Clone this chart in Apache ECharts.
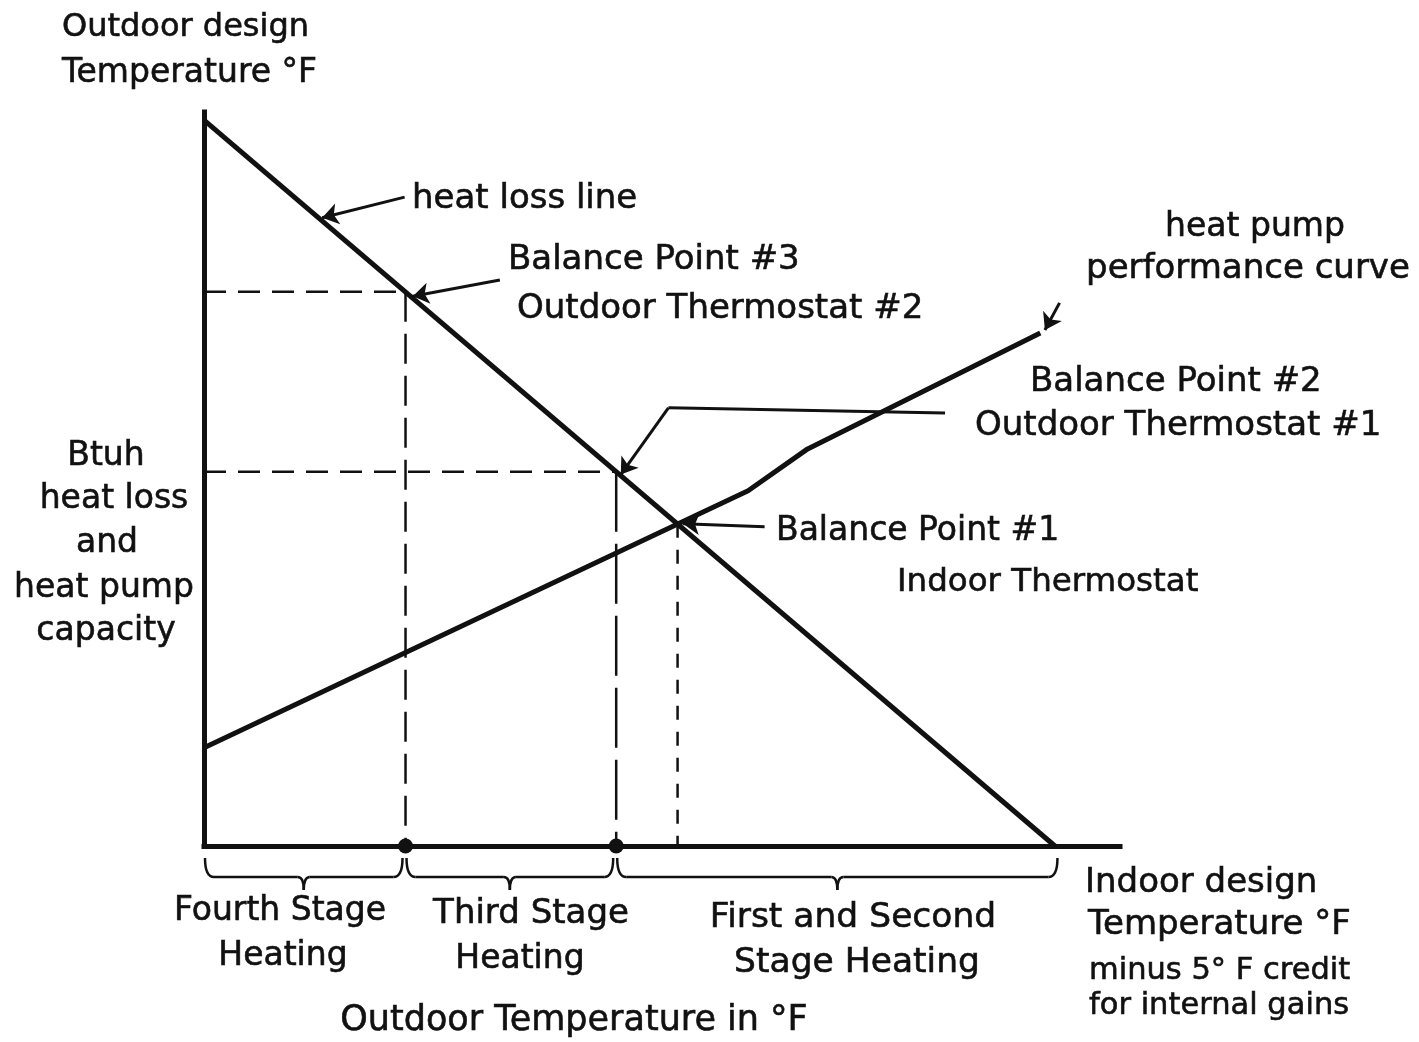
<!DOCTYPE html>
<html>
<head>
<meta charset="utf-8">
<title>Heat pump balance points</title>
<script src="https://cdn.jsdelivr.net/npm/echarts@6/dist/echarts.min.js"></script>
<style>
  html, body { margin: 0; padding: 0; background: #fff; }
  #chart { width: 1419px; height: 1042px; }
</style>
</head>
<body>
<div id="chart"></div>
<script>
// Schematic units: x = outdoor temperature (0 = outdoor design, ~93 = indoor design minus credit),
// y = Btuh (heat loss / heat pump capacity). Both on arbitrary 0-100 scales.
const heatLossLine = [[0, 98.9], [92.9, 0]];
const heatPumpCurve = [[0, 13.4], [59.4, 48.4], [65.9, 54.1], [91.3, 69.9]];

const balancePoint1 = [51.7, 43.9];
const balancePoint2 = [45.0, 51.0];
const balancePoint3 = [22.0, 75.5];

// Heating stage ranges along the outdoor temperature axis
const stageNames = ['Fourth Stage Heating', 'Third Stage Heating', 'First and Second Stage Heating'];
const stageRanges = [[0, 22.0], [22.0, 45.0], [45.0, 93.5]];

// Leader arrows: tail -> head
const arrowHeatLoss = [[21.9, 88.4], [12.9, 85.6]];
const arrowBalance3 = [[32.3, 77.1], [22.8, 74.9]];
const leaderBalance2 = [[80.9, 59.0], [50.7, 59.7]];
const arrowBalance2 = [[50.7, 59.7], [45.5, 50.6]];
const arrowBalance1 = [[61.2, 43.5], [52.3, 43.9]];
const arrowHeatPump = [[93.4, 74.0], [91.8, 70.3]];

const INK = '#111';
const FONT = '"DejaVu Sans", "Liberation Sans", sans-serif';

function label(text, x, y, size, align) {
  return {
    type: 'text', x: x, y: y, silent: true,
    style: {
      text: text, fill: INK,
      stroke: INK, lineWidth: 0.6,
      font: size + 'px ' + FONT,
      fontSize: size, fontFamily: FONT,
      align: align || 'left', textAlign: align || 'left',
      verticalAlign: 'middle', textVerticalAlign: 'middle'
    }
  };
}

function guide(points, dash) {
  return {
    type: 'line', data: points, symbol: 'none', silent: true,
    lineStyle: { color: INK, width: 2.5, type: dash }, z: 3
  };
}

function segment(points) {
  return { coords: points };
}

const chart = echarts.init(document.getElementById('chart'), null, { renderer: 'canvas' });

chart.setOption({
  backgroundColor: '#fff',
  animation: false,
  grid: { left: 204, top: 112, width: 916, height: 734 },
  xAxis: {
    type: 'value', min: 0, max: 100,
    axisLine: { show: true, onZero: false, lineStyle: { color: INK, width: 5, cap: 'square' } },
    axisTick: { show: false }, axisLabel: { show: false }, splitLine: { show: false }
  },
  yAxis: {
    type: 'value', min: 0, max: 100,
    axisLine: { show: true, onZero: false, lineStyle: { color: INK, width: 5, cap: 'square' } },
    axisTick: { show: false }, axisLabel: { show: false }, splitLine: { show: false }
  },
  series: [
    {
      name: 'heat loss line', type: 'line', data: heatLossLine, symbol: 'none',
      lineStyle: { color: INK, width: 5 }, z: 5
    },
    {
      name: 'heat pump performance curve', type: 'line', data: heatPumpCurve, symbol: 'none',
      lineStyle: { color: INK, width: 5, join: 'round' }, z: 5
    },
    guide([[0, balancePoint3[1]], balancePoint3], [22, 12]),
    guide([balancePoint3, [balancePoint3[0], 0]], [30, 12]),
    guide([[0, balancePoint2[1]], balancePoint2], [22, 12]),
    guide([balancePoint2, [balancePoint2[0], 0]], [60, 12]),
    guide([balancePoint1, [balancePoint1[0], 0]], [14, 12]),
    {
      name: 'outdoor thermostats', type: 'scatter', symbol: 'circle', symbolSize: 15,
      itemStyle: { color: INK, opacity: 1 }, z: 6,
      data: [[balancePoint3[0], 0], [balancePoint2[0], 0]]
    },
    {
      name: 'leader lines', type: 'lines', coordinateSystem: 'cartesian2d',
      symbol: ['none', 'none'], silent: true, z: 7,
      lineStyle: { color: INK, width: 3, opacity: 1, curveness: 0 },
      data: [leaderBalance2].map(segment)
    },
    {
      name: 'leader arrows', type: 'lines', coordinateSystem: 'cartesian2d',
      symbol: ['none', 'arrow'], symbolSize: 16, silent: true, z: 7,
      lineStyle: { color: INK, width: 3, opacity: 1, curveness: 0 },
      data: [arrowHeatLoss, arrowBalance3, arrowBalance2, arrowBalance1, arrowHeatPump].map(segment)
    },
    {
      name: 'stages', type: 'custom', silent: true, z: 4,
      data: stageRanges,
      renderItem: function (params, api) {
        const a = api.coord([api.value(0), 0]);
        const b = api.coord([api.value(1), 0]);
        const x0 = a[0] + 1, x1 = b[0] - 3;
        const base = a[1];
        const top = base + 12, bar = base + 31, tip = base + 44;
        const mid = (x0 + x1) / 2;
        const r = 9, r2 = 6;
        const st = { stroke: INK, lineWidth: 2.5, fill: null };
        return {
          type: 'group',
          children: [
            { type: 'bezierCurve', shape: { x1: x0, y1: top, x2: x0 + r, y2: bar, cpx1: x0, cpy1: bar }, style: st },
            { type: 'line', shape: { x1: x0 + r, y1: bar, x2: mid - r2, y2: bar }, style: st },
            { type: 'bezierCurve', shape: { x1: mid - r2, y1: bar, x2: mid, y2: tip, cpx1: mid, cpy1: bar }, style: st },
            { type: 'bezierCurve', shape: { x1: mid + r2, y1: bar, x2: mid, y2: tip, cpx1: mid, cpy1: bar }, style: st },
            { type: 'line', shape: { x1: mid + r2, y1: bar, x2: x1 - r, y2: bar }, style: st },
            { type: 'bezierCurve', shape: { x1: x1 - r, y1: bar, x2: x1, y2: top, cpx1: x1, cpy1: bar }, style: st }
          ]
        };
      }
    }
  ],
  graphic: [
    label('Outdoor design', 62, 28, 32),
    label('Temperature \u00B0F', 62, 73, 33),

    label('Btuh', 106, 456, 33, 'center'),
    label('heat loss', 114, 499, 33, 'center'),
    label('and', 107, 543, 33, 'center'),
    label('heat pump', 104, 588, 33, 'center'),
    label('capacity', 106, 631, 33, 'center'),

    label('heat loss line', 412, 199, 34),
    label('Balance Point #3', 508, 260, 34),
    label('Outdoor Thermostat #2', 517, 309, 34),

    label('heat pump', 1255, 227, 33, 'center'),
    label('performance curve', 1248, 269, 34, 'center'),

    label('Balance Point #2', 1030, 382, 34),
    label('Outdoor Thermostat #1', 975, 426, 34),

    label('Balance Point #1', 776, 531, 33),
    label('Indoor Thermostat', 897, 583, 32.5),

    label('Fourth Stage', 280, 911, 33, 'center'),
    label('Heating', 283, 956, 33, 'center'),
    label('Third Stage', 531, 914, 34, 'center'),
    label('Heating', 520, 959, 33, 'center'),
    label('First and Second', 853, 918, 34.5, 'center'),
    label('Stage Heating', 857, 963, 34.5, 'center'),
    label('Outdoor Temperature in \u00B0F', 574, 1021, 35, 'center'),

    label('Indoor design', 1085, 883, 34),
    label('Temperature \u00B0F', 1088, 925, 34),
    label('minus 5\u00B0 F credit', 1089, 971, 30.5),
    label('for internal gains', 1089, 1006, 30.5)
  ]
});
</script>
</body>
</html>
